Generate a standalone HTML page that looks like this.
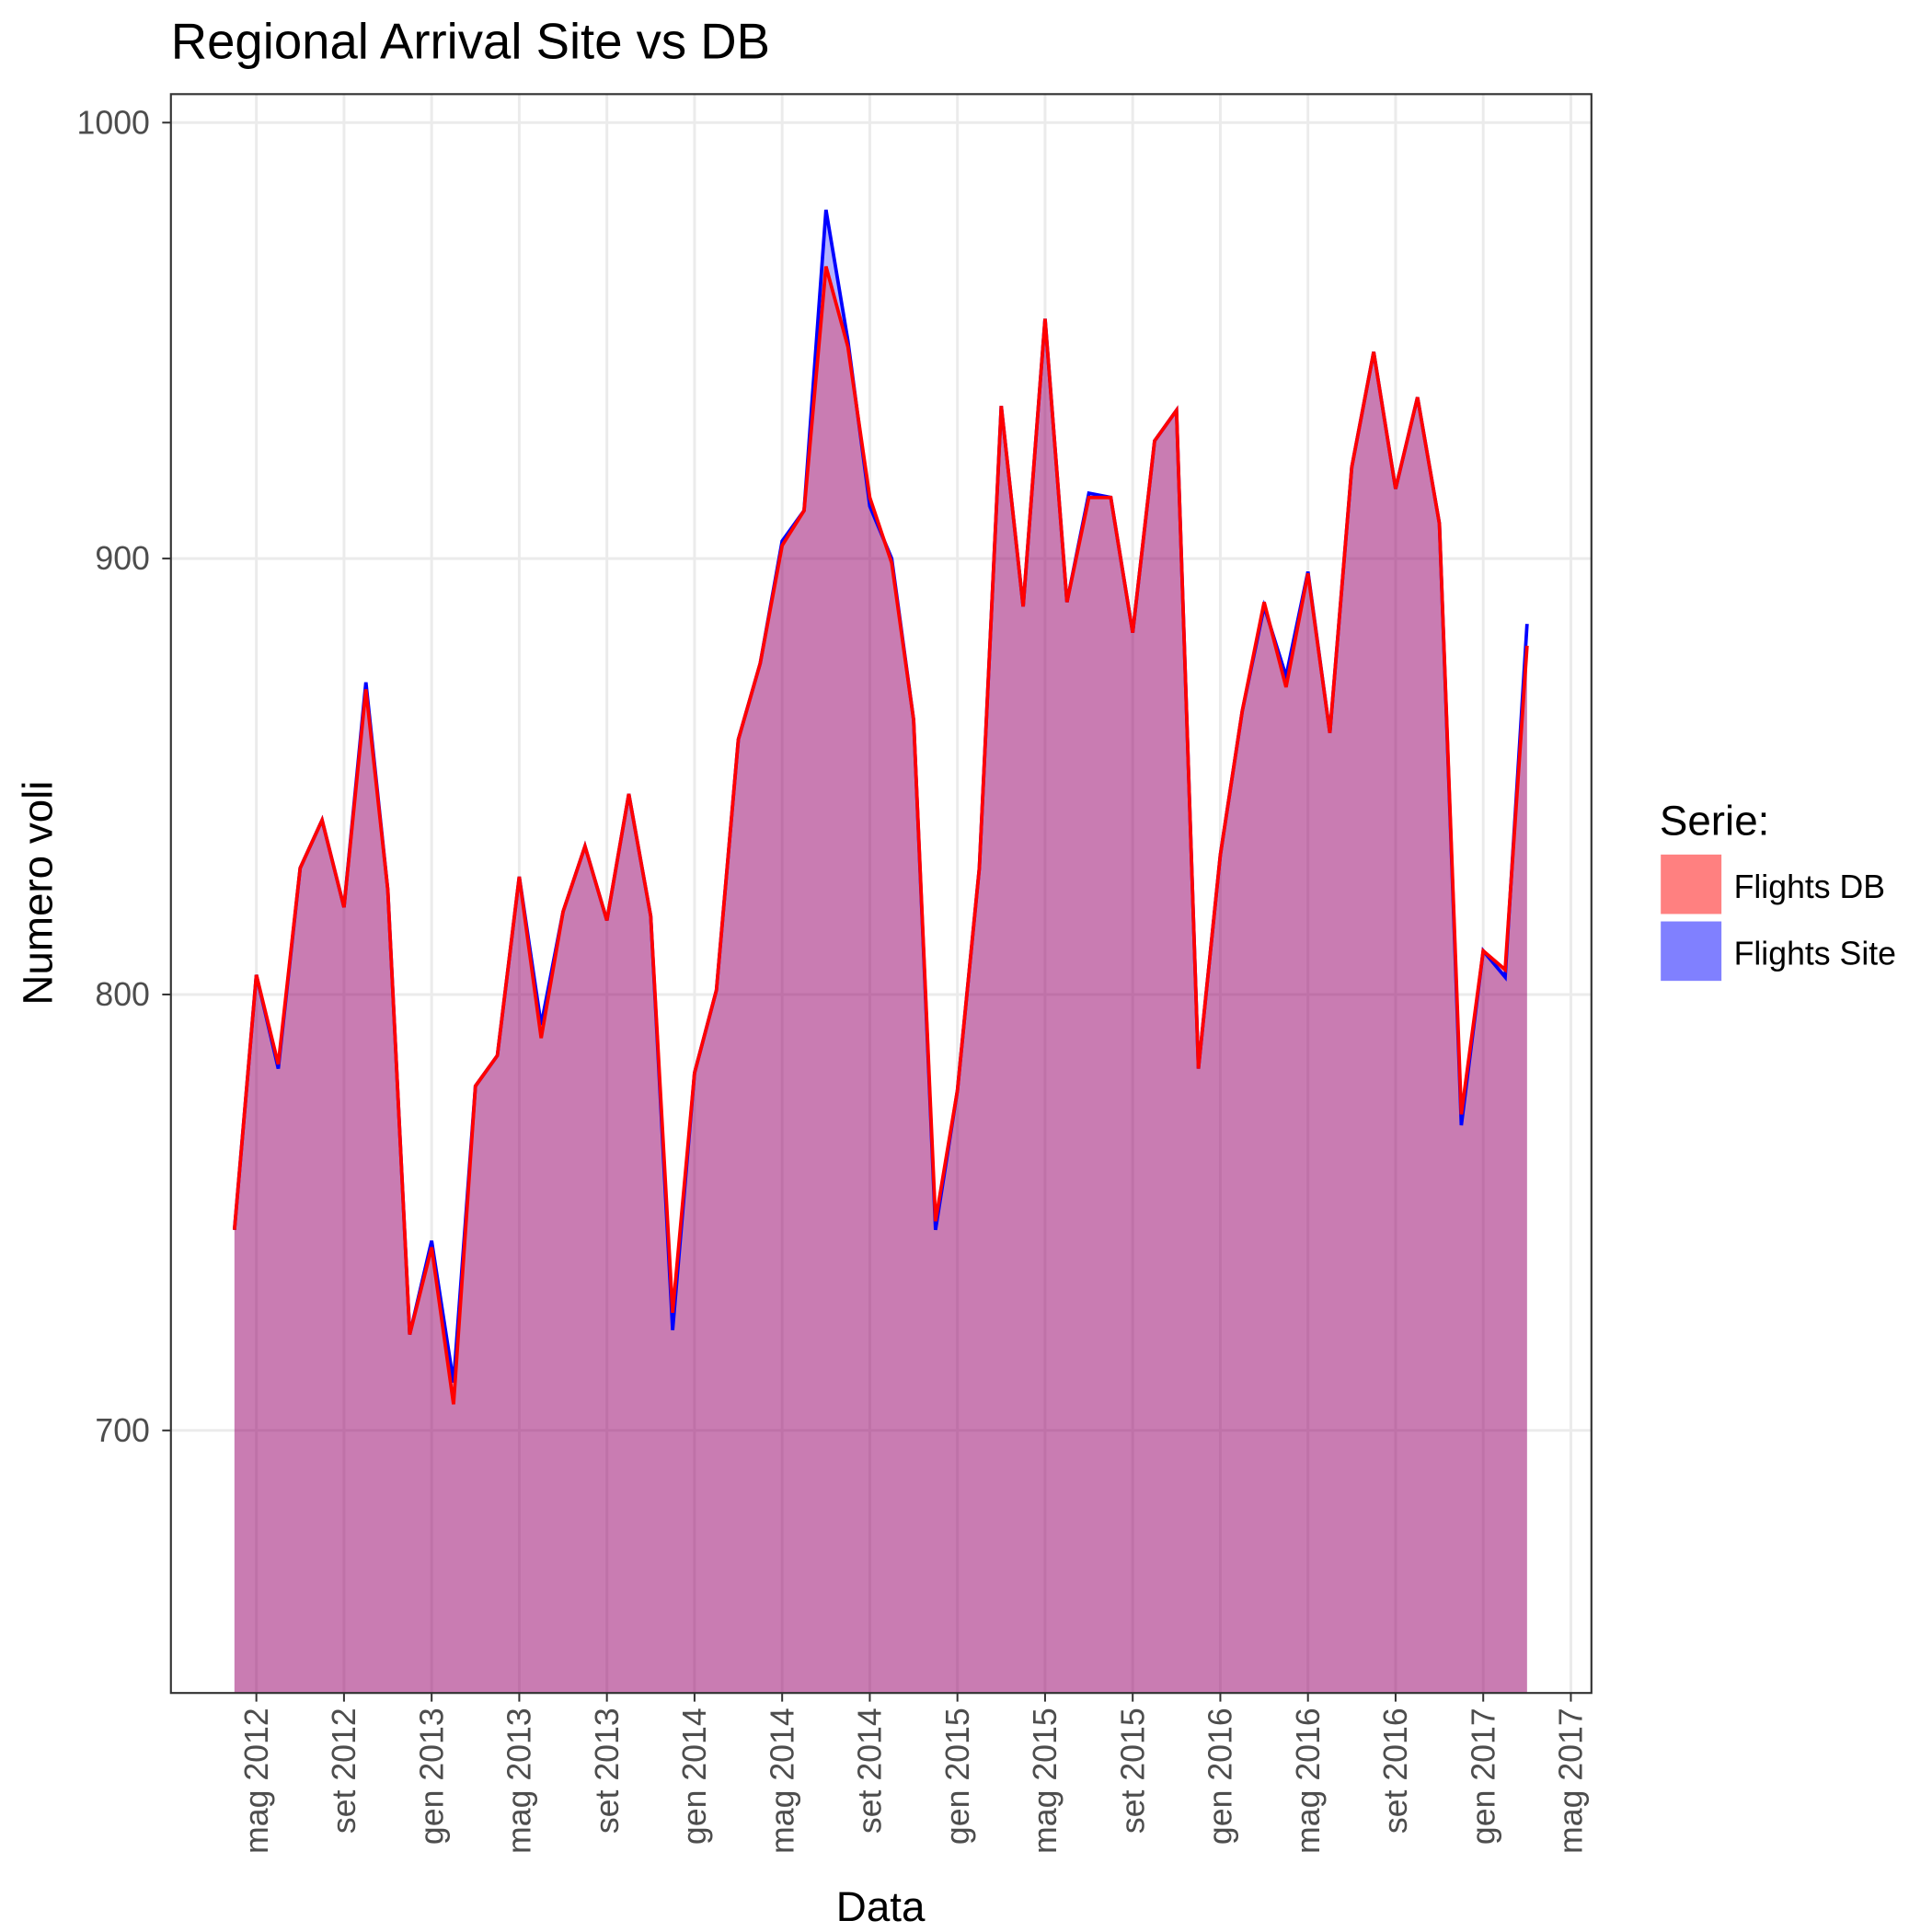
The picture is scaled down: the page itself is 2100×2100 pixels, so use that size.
<!DOCTYPE html>
<html><head><meta charset="utf-8"><style>
html,body{margin:0;padding:0;background:#fff}
svg{display:block}
text{font-family:"Liberation Sans",Arial,sans-serif}
</style></head><body>
<svg id="chart" width="2100" height="2100" viewBox="0 0 1560 1560" xmlns="http://www.w3.org/2000/svg">
<text x="138" y="47" font-size="40.5" fill="#000">Regional Arrival Site vs DB</text>
<g id="grid"></g>
<g id="areas"></g>
<rect x="138" y="76" width="1147" height="1291" fill="none" stroke="#333" stroke-width="1.6"/>
<g id="axes"></g>
<text transform="translate(42,721) rotate(-90)" text-anchor="middle" font-size="34" fill="#000">Numero voli</text>
<text x="711" y="1551" text-anchor="middle" font-size="34" fill="#000">Data</text>
<g>
<text x="1340" y="674" font-size="34" fill="#000">Serie:</text>
<rect x="1341" y="690" width="49" height="48" fill="#ff8080"/>
<rect x="1341" y="744" width="49" height="48" fill="#8080ff"/>
<text x="1400" y="725" font-size="26.5" fill="#000">Flights DB</text>
<text x="1400" y="779" font-size="26.5" fill="#000">Flights Site</text>
</g>
</svg>
<script>
// month index 0 = apr 2012
const siteValues = [746,804.5,783,829,840,820,871.6,824,722,743.5,711,779,786,827,793,819,834,817,846,818,723,782,801,858.5,876,904,911,980,950,912,900,863,746,778,829,935,889,955,890,915,914,883,927,934,783,832,865,889,873,897,860,921,947.4,916,937,908,770,810,804,885];
const dbValues = [746,804.5,784,829,840,820,870,824,722,742,706,779,786,827,790,819,834,817,846,818,727,782,801,858.5,876,903,911,967,948.6,914,899,863,748,778,829,935,889,955,890,914,914,883,927,934,783,832,865,890,870.5,896.6,860,921,947.4,916,937,908,772.5,810,805.7,880];
const yTicks = [700,800,900,1000];
const xTickLabels = ["mag 2012","set 2012","gen 2013","mag 2013","set 2013","gen 2014","mag 2014","set 2014","gen 2015","mag 2015","set 2015","gen 2016","mag 2016","set 2016","gen 2017","mag 2017"];
const xTickMonths = [1,5,9,13,17,21,25,29,33,37,41,45,49,53,57,61];

const NS="http://www.w3.org/2000/svg";
const x = i => 207 + (i-1)*17.69;
const y = v => 99 + (1000 - v)*3.52;
const BOTTOM = 1367;
function mk(tag, attrs, parent){const e=document.createElementNS(NS,tag);for(const k in attrs)e.setAttribute(k,attrs[k]);parent.appendChild(e);return e;}
const grid=document.getElementById('grid'), areas=document.getElementById('areas'), axes=document.getElementById('axes');
mk('rect',{x:138,y:76,width:1147,height:1291,fill:'#fff'},grid);
yTicks.forEach(v=>{
  const l=mk('line',{x1:138,x2:1285,y1:y(v),y2:y(v),stroke:'#ebebeb','stroke-width':2.2},grid);
  
  
  const t=mk('line',{x1:131,x2:138,y1:y(v),y2:y(v),stroke:'#333','stroke-width':1.5},axes);
  
  
  const tx=mk('text',{x:121,y:y(v)+9,'text-anchor':'end','font-size':26.5,fill:'#4d4d4d'},axes);
  tx.textContent=v;
  
  
});
xTickMonths.forEach((m,k)=>{
  const l=mk('line',{x1:x(m),x2:x(m),y1:76,y2:BOTTOM,stroke:'#ebebeb','stroke-width':2.2},grid);
  
  
  const t=mk('line',{x1:x(m),x2:x(m),y1:BOTTOM,y2:BOTTOM+7,stroke:'#333','stroke-width':1.5},axes);
  
  
  const tx=mk('text',{transform:`translate(${x(m)+9},${BOTTOM+12}) rotate(-90)`,'text-anchor':'end','font-size':26.5,fill:'#4d4d4d'},axes);
  tx.textContent=xTickLabels[k];
  
  
});
function areaPath(vals){let d=`M${x(0)},${BOTTOM}`;vals.forEach((v,i)=>{d+=` L${x(i)},${y(v)}`});return d+` L${x(vals.length-1)},${BOTTOM} Z`;}
function linePath(vals){return vals.map((v,i)=>(i?'L':'M')+x(i)+','+y(v)).join(' ');}
const a1=mk('path',{d:areaPath(siteValues),fill:'#0000ff','fill-opacity':0.3},areas);


const a2=mk('path',{d:areaPath(dbValues),fill:'#ff0000','fill-opacity':0.3},areas);


const l1=mk('path',{d:linePath(siteValues),fill:'none',stroke:'#0000ff','stroke-width':2.8},areas);


const l2=mk('path',{d:linePath(dbValues),fill:'none',stroke:'#ff0000','stroke-width':2.8},areas);


</script>
</body></html>
